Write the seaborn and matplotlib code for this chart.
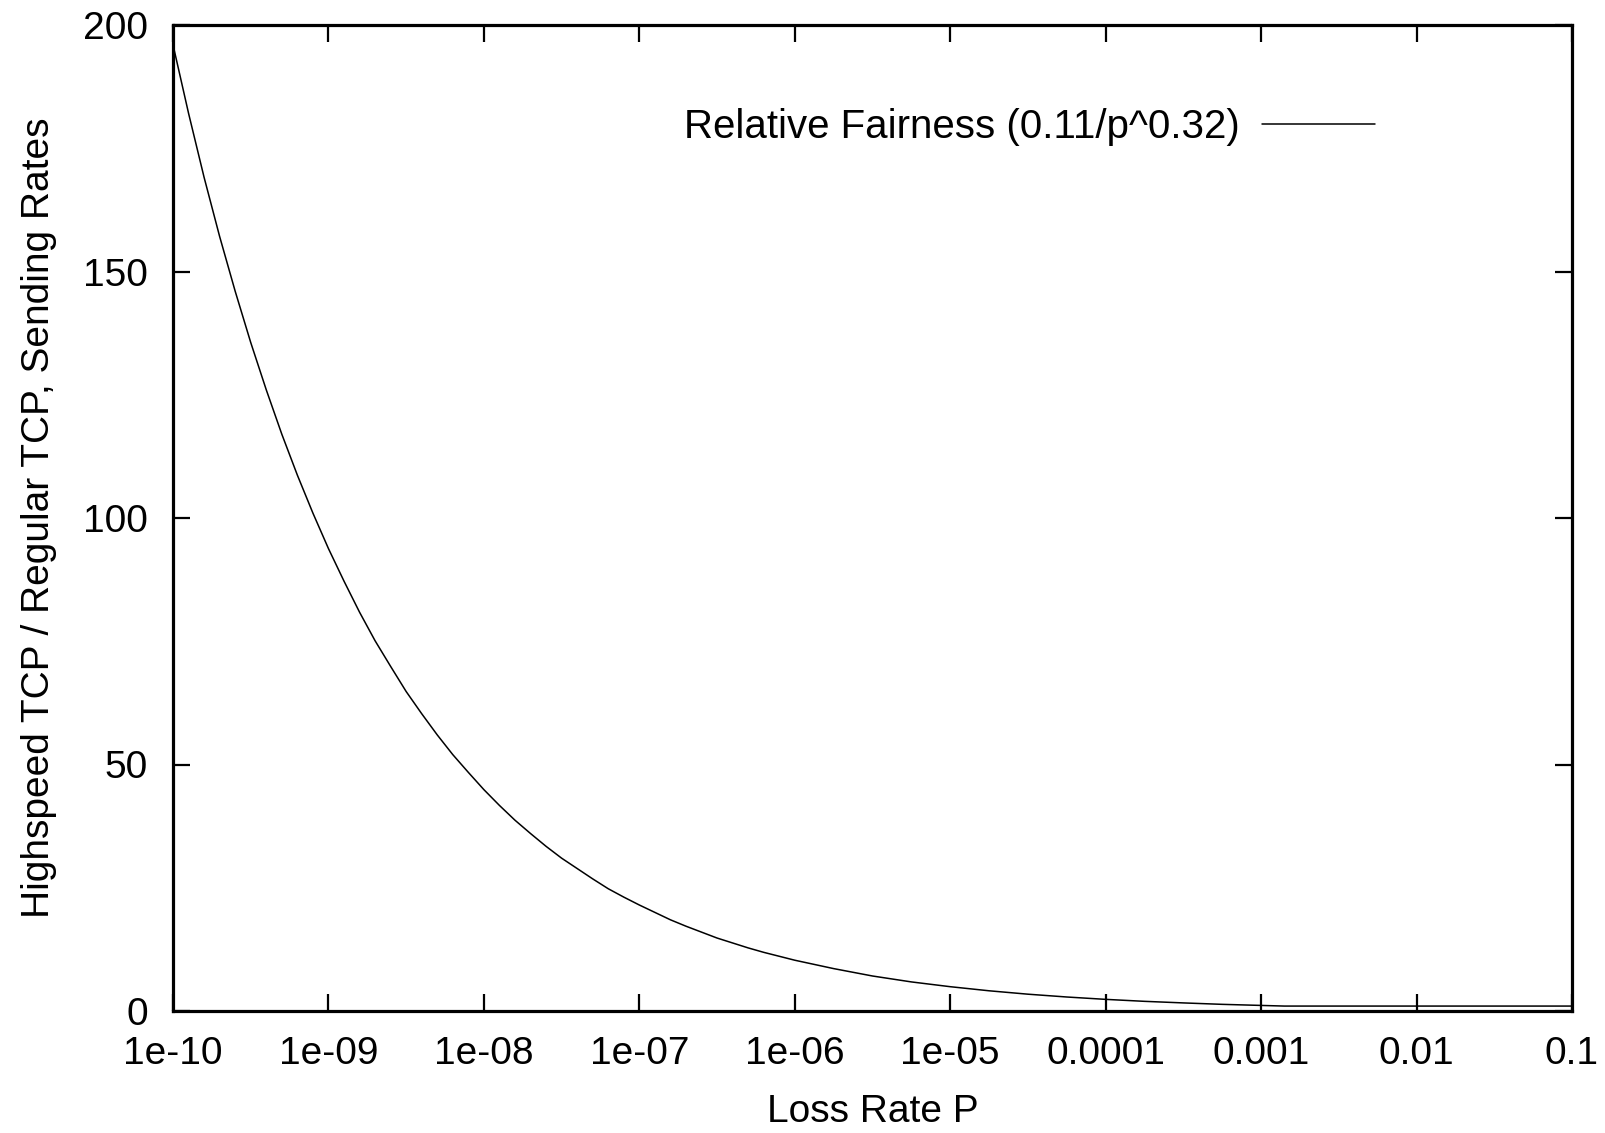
import numpy as np
import matplotlib
matplotlib.use("Agg")
import matplotlib.pyplot as plt
import matplotlib.ticker as mticker
import seaborn as sns
import pandas as pd

loss_exp = [-10.0, -9.9, -9.8, -9.7, -9.6, -9.5, -9.4, -9.3, -9.2, -9.1,
            -9.0, -8.9, -8.8, -8.7, -8.6, -8.5, -8.4, -8.3, -8.2, -8.1,
            -8.0, -7.9, -7.8, -7.7, -7.6, -7.5, -7.4, -7.3, -7.2, -7.1,
            -7.0, -6.9, -6.8, -6.7, -6.6, -6.5, -6.4, -6.3, -6.2, -6.1,
            -6.0, -5.75, -5.5, -5.25, -5.0, -4.75, -4.5, -4.25, -4.0,
            -3.75, -3.5, -3.25, -3.0, -2.85, -2.0, -1.0]
fairness = [196.0, 182.1, 169.1, 157.1, 146.0, 135.6, 126.0, 117.0, 108.7, 101.0,
            93.8, 87.2, 80.9, 75.1, 69.9, 64.8, 60.3, 56.0, 52.0, 48.4,
            44.9, 41.7, 38.7, 36.0, 33.4, 31.0, 28.9, 26.8, 24.8, 23.1,
            21.5, 20.0, 18.5, 17.2, 16.0, 14.8, 13.8, 12.8, 11.9, 11.1,
            10.3, 8.6, 7.1, 5.9, 4.93, 4.1, 3.41, 2.84, 2.36,
            1.96, 1.64, 1.35, 1.13, 1.0, 1.0, 1.0]

xtick_vals = [1e-10, 1e-9, 1e-8, 1e-7, 1e-6, 1e-5, 1e-4, 1e-3, 1e-2, 1e-1]
xtick_labels = ["1e-10", "1e-09", "1e-08", "1e-07", "1e-06", "1e-05",
                "0.0001", "0.001", "0.01", "0.1"]
ytick_vals = [0, 50, 100, 150, 200]

series_name = "Relative Fairness (0.11/p^0.32)"

df = pd.DataFrame({"p": np.power(10.0, loss_exp), "fair": fairness})

sns.set_theme(style="white")
plt.rcParams["font.family"] = ["Liberation Sans", "DejaVu Sans"]

fig = plt.figure(figsize=(16.06, 11.33), dpi=100)
ax = fig.add_axes([173 / 1606, 1 - 1011 / 1133, 1399 / 1606, 986 / 1133])

sns.lineplot(data=df, x="p", y="fair", ax=ax, color="black", linewidth=1.1,
             label=series_name, estimator=None, sort=True)

ax.set_xscale("log")
ax.set_xlim(1e-10, 1e-1)
ax.set_ylim(0, 200)
ax.xaxis.set_major_locator(mticker.FixedLocator(xtick_vals))
ax.xaxis.set_major_formatter(mticker.FixedFormatter(xtick_labels))
ax.xaxis.set_minor_locator(mticker.NullLocator())
ax.set_yticks(ytick_vals)

for sp in ax.spines.values():
    sp.set_visible(True)
    sp.set_color("black")
    sp.set_linewidth(2.3)

# gnuplot style: inward ticks mirrored on all four sides
ax.tick_params(axis="both", which="major", direction="in", length=12.5, width=1.6,
               bottom=True, top=True, left=True, right=True,
               labelsize=28, colors="black")
ax.tick_params(axis="x", pad=18)
ax.tick_params(axis="y", pad=18)

ax.set_xlabel("Loss Rate P", fontsize=28, color="black")
ax.set_ylabel("Highspeed TCP / Regular TCP, Sending Rates", fontsize=28, color="black")
ax.xaxis.set_label_coords(0.5, -0.084)
ax.yaxis.set_label_coords(-0.083, 0.5)

leg = ax.legend(loc="center right", bbox_to_anchor=(1375 / 1606, 1 - 127 / 1133),
                bbox_transform=fig.transFigure, frameon=False, markerfirst=False,
                fontsize=29, handlelength=2.8, handletextpad=0.55, borderpad=0,
                borderaxespad=0, labelcolor="black")

fig.savefig("out.png", dpi=100)
